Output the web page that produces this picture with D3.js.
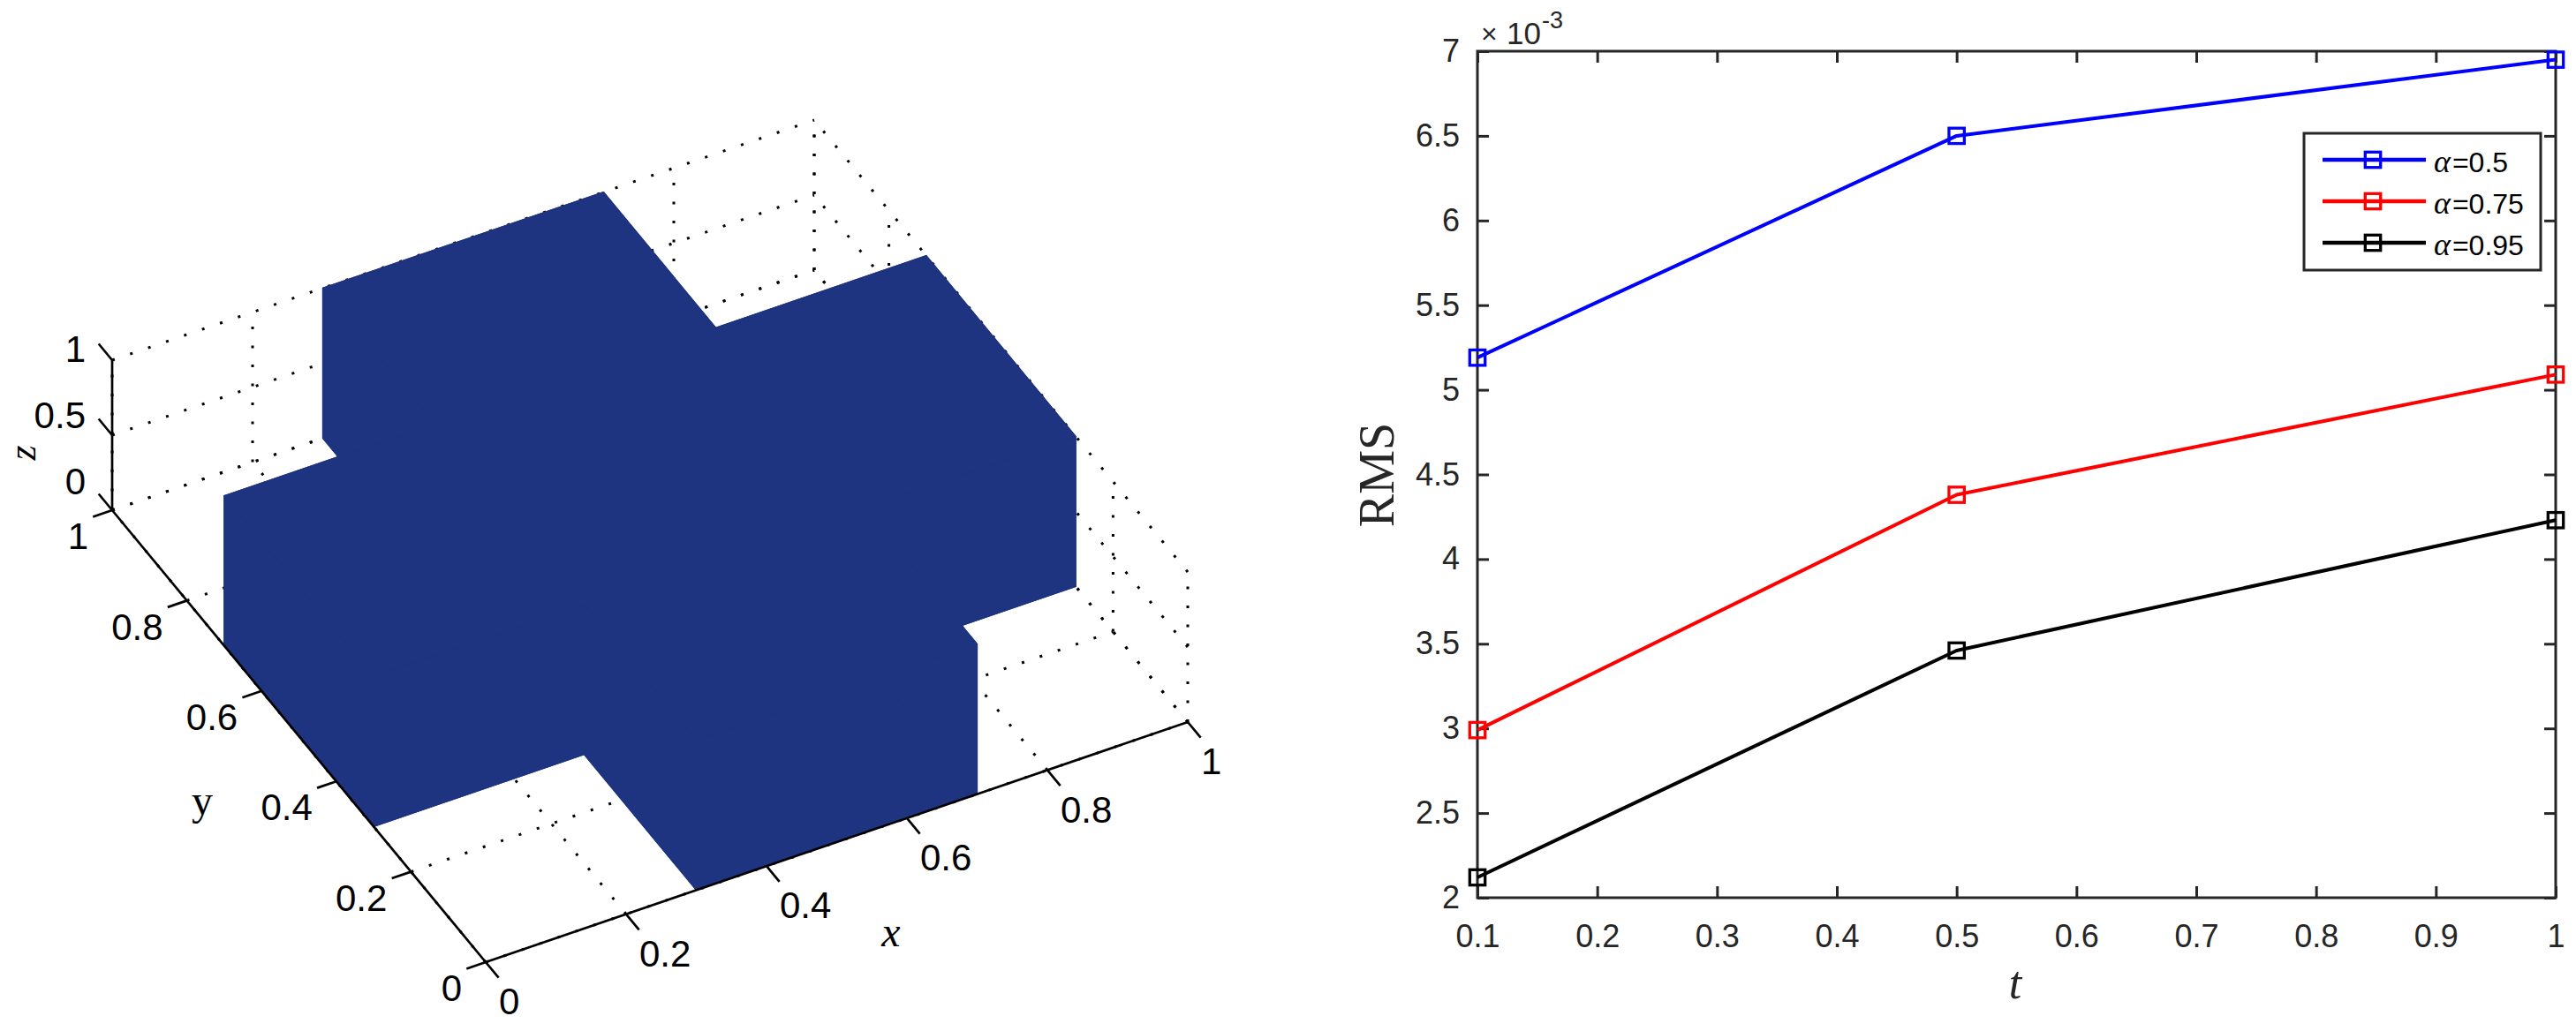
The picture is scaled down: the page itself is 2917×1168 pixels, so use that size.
<!DOCTYPE html>
<html><head><meta charset="utf-8">
<script src="https://cdn.jsdelivr.net/npm/d3@7"></script>
<style>body{margin:0;background:#fff}svg{display:block}</style>
</head><body>
<svg id="c" width="2917" height="1168"></svg>
<script>
// ---------- Right panel data (RMS values in units of 10^-3) ----------
const tValues = [0.1, 0.5, 1];
const rmsAlpha050 = [5.19, 6.50, 6.95];
const rmsAlpha075 = [2.99, 4.38, 5.09];
const rmsAlpha095 = [2.12, 3.46, 4.23];
const alphaLabels = ["0.5", "0.75", "0.95"];
const seriesColors = ["#0000ff", "#ff0000", "#000000"];
const tTicks = [0.1, 0.2, 0.3, 0.4, 0.5, 0.6, 0.7, 0.8, 0.9, 1];
const rmsTicks = [2, 2.5, 3, 3.5, 4, 4.5, 5, 5.5, 6, 6.5, 7];
const rmsExponent = "-3";

// ---------- Left panel data (cross-shaped surface) ----------
const crossX = [0.3, 0.7, 0.7, 1, 1, 0.7, 0.7, 0.3, 0.3, 0, 0, 0.3];
const crossY = [0, 0, 0.3, 0.3, 0.7, 0.7, 1, 1, 0.7, 0.7, 0.3, 0.3];
const crossHeight = 1;
const xTicks3d = [0, 0.2, 0.4, 0.6, 0.8, 1];
const yTicks3d = [0, 0.2, 0.4, 0.6, 0.8, 1];
const zTicks3d = [0, 0.5, 1];

const svg = d3.select("#c");
svg.append("rect").attr("width", 2917).attr("height", 1168).attr("fill", "#fff");
const fmt = d => String(+d.toFixed(2));

// ================= LEFT: 3D view =================
const g3 = svg.append("g");
// orthographic projection built from linear scales along each data axis
const sxX = d3.scaleLinear().domain([0, 1]).range([0, 795]);
const sxY = d3.scaleLinear().domain([0, 1]).range([0, -272]);
const syX = d3.scaleLinear().domain([0, 1]).range([0, -423]);
const syY = d3.scaleLinear().domain([0, 1]).range([0, -512]);
const sz = d3.scaleLinear().domain([0, 1]).range([0, -170]);
const O = [550, 1090];
const P = (x, y, z) => [O[0] + sxX(x) + syX(y), O[1] + sxY(x) + syY(y) + sz(z)];
const line = d3.line();

// grid (dotted)
const gridSegs = [];
xTicks3d.forEach(v => { gridSegs.push([[v,0,0],[v,1,0]]); gridSegs.push([[v,1,0],[v,1,1]]); });
yTicks3d.forEach(v => { gridSegs.push([[0,v,0],[1,v,0]]); gridSegs.push([[1,v,0],[1,v,1]]); });
zTicks3d.forEach(v => { gridSegs.push([[0,1,v],[1,1,v]]); gridSegs.push([[1,0,v],[1,1,v]]); });
g3.append("g").selectAll("path").data(gridSegs).join("path")
  .attr("d", s => line(s.map(p => P(...p))))
  .attr("fill", "none").attr("stroke", "#000").attr("stroke-width", 3)
  .attr("stroke-dasharray", "3 18.5");

// surface: bottom, top and walls
const n = crossX.length;
const polys = [];
polys.push(crossX.map((x, i) => P(x, crossY[i], 0)));
for (let i = 0; i < n; i++) {
  const j = (i + 1) % n;
  polys.push([P(crossX[i], crossY[i], 0), P(crossX[j], crossY[j], 0),
              P(crossX[j], crossY[j], crossHeight), P(crossX[i], crossY[i], crossHeight)]);
}
polys.push(crossX.map((x, i) => P(x, crossY[i], crossHeight)));
g3.append("g").selectAll("path").data(polys).join("path")
  .attr("d", p => line(p) + "Z")
  .attr("fill", "#1f3480").attr("stroke", "#1f3480").attr("stroke-width", 1.2)
  .attr("stroke-linejoin", "round");

// axes lines
const axStyle = s => s.attr("fill", "none").attr("stroke", "#000").attr("stroke-width", 2.7);
g3.append("path").attr("d", line([P(0,0,0), P(1,0,0)])).call(axStyle);
g3.append("path").attr("d", line([P(0,0,0), P(0,1,0)])).call(axStyle);
g3.append("path").attr("d", line([P(0,1,0), P(0,1,1)])).call(axStyle);
// ticks
const ey = [-0.637, -0.771], ex = [0.946, -0.324];
xTicks3d.forEach(v => { const a = P(v,0,0); g3.append("path").attr("d", line([a, [a[0]-ey[0]*23, a[1]-ey[1]*23]])).call(axStyle); });
yTicks3d.forEach(v => { const a = P(0,v,0); g3.append("path").attr("d", line([a, [a[0]-ex[0]*23, a[1]-ex[1]*23]])).call(axStyle); });
zTicks3d.forEach(v => { const a = P(0,1,v); g3.append("path").attr("d", line([a, [a[0]+ey[0]*24, a[1]+ey[1]*24]])).call(axStyle); });
// tick labels
const lbl = (sel) => sel.attr("font-family", "'Liberation Sans', Arial, sans-serif").attr("font-size", 42).attr("fill", "#000");
g3.append("g").selectAll("text").data(xTicks3d).join("text").call(lbl)
  .attr("x", v => P(v,0,0)[0] + 15).attr("y", v => P(v,0,0)[1] + 44).attr("dy", "0.36em")
  .attr("text-anchor", "start").text(fmt);
g3.append("g").selectAll("text").data(yTicks3d).join("text").call(lbl)
  .attr("x", v => P(0,v,0)[0] - 27).attr("y", v => P(0,v,0)[1] + 29).attr("dy", "0.36em")
  .attr("text-anchor", "end").text(fmt);
g3.append("g").selectAll("text").data(zTicks3d).join("text").call(lbl)
  .attr("x", v => P(0,1,v)[0] - 30).attr("y", v => P(0,1,v)[1] - 13 - 20 * (1 - v)).attr("dy", "0.36em")
  .attr("text-anchor", "end").text(fmt);
// axis titles
const serif = "'Liberation Serif', 'Times New Roman', serif";
g3.append("text").attr("x", 1009).attr("y", 1072).attr("text-anchor", "middle")
  .attr("font-family", serif).attr("font-style", "italic").attr("font-size", 48).text("x");
g3.append("text").attr("x", 229).attr("y", 923).attr("text-anchor", "middle")
  .attr("font-family", serif).attr("font-size", 48).text("y");
g3.append("text").attr("transform", "translate(40,513) rotate(-90)").attr("text-anchor", "middle")
  .attr("font-family", serif).attr("font-style", "italic").attr("font-size", 44).text("z");

// ================= RIGHT: line chart =================
const L = 1673, R = 2894, T = 58, B = 1017;
const x = d3.scaleLinear().domain([0.1, 1]).range([L, R]);
const y = d3.scaleLinear().domain([2, 7]).range([B, T]);
const gr = svg.append("g");
const axisColor = "#262626";
const styleAxis = (sel, labels) => {
  sel.select(".domain").remove();
  sel.selectAll(".tick line").attr("stroke", axisColor).attr("stroke-width", 3);
  sel.selectAll(".tick text").attr("fill", axisColor)
    .attr("font-family", "'Liberation Sans', Arial, sans-serif").attr("font-size", 36);
  if (!labels) sel.selectAll(".tick text").remove();
};
gr.append("g").attr("transform", `translate(0,${B})`)
  .call(d3.axisBottom(x).tickValues(tTicks).tickFormat(fmt).tickSizeInner(-13).tickSizeOuter(0).tickPadding(30))
  .call(s => styleAxis(s, true));
gr.append("g").attr("transform", `translate(0,${T})`)
  .call(d3.axisTop(x).tickValues(tTicks).tickSizeInner(-13).tickSizeOuter(0))
  .call(s => styleAxis(s, false));
gr.append("g").attr("transform", `translate(${L},0)`)
  .call(d3.axisLeft(y).tickValues(rmsTicks).tickFormat(fmt).tickSizeInner(-13).tickSizeOuter(0).tickPadding(20))
  .call(s => styleAxis(s, true));
gr.append("g").attr("transform", `translate(${R},0)`)
  .call(d3.axisRight(y).tickValues(rmsTicks).tickSizeInner(-13).tickSizeOuter(0))
  .call(s => styleAxis(s, false));
gr.append("rect").attr("x", L).attr("y", T).attr("width", R - L).attr("height", B - T)
  .attr("fill", "none").attr("stroke", axisColor).attr("stroke-width", 3);

// exponent
const sans = "'Liberation Sans', Arial, sans-serif";
gr.append("text").attr("x", 1677).attr("y", 49).attr("font-family", sans).attr("font-size", 32).attr("fill", axisColor).text("×");
gr.append("text").attr("x", 1706).attr("y", 50).attr("font-family", sans).attr("font-size", 35).attr("fill", axisColor).text("10");
gr.append("text").attr("x", 1746).attr("y", 32).attr("font-family", sans).attr("font-size", 27).attr("fill", axisColor).text(rmsExponent);

// series
const series = [rmsAlpha050, rmsAlpha075, rmsAlpha095];
const lineGen = d3.line().x((d, i) => x(tValues[i])).y(d => y(d));
series.forEach((vals, k) => {
  gr.append("path").attr("d", lineGen(vals)).attr("fill", "none")
    .attr("stroke", seriesColors[k]).attr("stroke-width", 4).attr("stroke-linejoin", "round");
  gr.append("g").selectAll("rect").data(vals).join("rect")
    .attr("x", (d, i) => x(tValues[i]) - 8.7).attr("y", d => y(d) - 8.7)
    .attr("width", 17.4).attr("height", 17.4)
    .attr("fill", "none").attr("stroke", seriesColors[k]).attr("stroke-width", 3.3);
});

// axis titles
gr.append("text").attr("transform", "translate(1578,538) rotate(-90)").attr("text-anchor", "middle")
  .attr("font-family", serif).attr("font-size", 56).attr("fill", axisColor).text("RMS");
gr.append("text").attr("x", 2282).attr("y", 1131).attr("text-anchor", "middle")
  .attr("font-family", serif).attr("font-style", "italic").attr("font-size", 52).attr("fill", axisColor).text("t");

// legend
const lg = gr.append("g");
lg.append("rect").attr("x", 2609).attr("y", 151).attr("width", 268).attr("height", 155)
  .attr("fill", "#fff").attr("stroke", axisColor).attr("stroke-width", 3);
alphaLabels.forEach((a, k) => {
  const cy = 181 + k * 47;
  lg.append("line").attr("x1", 2630).attr("x2", 2747).attr("y1", cy).attr("y2", cy)
    .attr("stroke", seriesColors[k]).attr("stroke-width", 4.5);
  lg.append("rect").attr("x", 2687 - 8.7).attr("y", cy - 8.7).attr("width", 17.4).attr("height", 17.4)
    .attr("fill", "none").attr("stroke", seriesColors[k]).attr("stroke-width", 3.3);
  const t = lg.append("text").attr("x", 2756).attr("y", cy + 14).attr("fill", "#000");
  t.append("tspan").attr("font-family", serif).attr("font-style", "italic").attr("font-size", 36).text("α");
  t.append("tspan").attr("font-family", sans).attr("font-size", 32).attr("dx", 2).text("=" + a);
});
</script>
</body></html>
